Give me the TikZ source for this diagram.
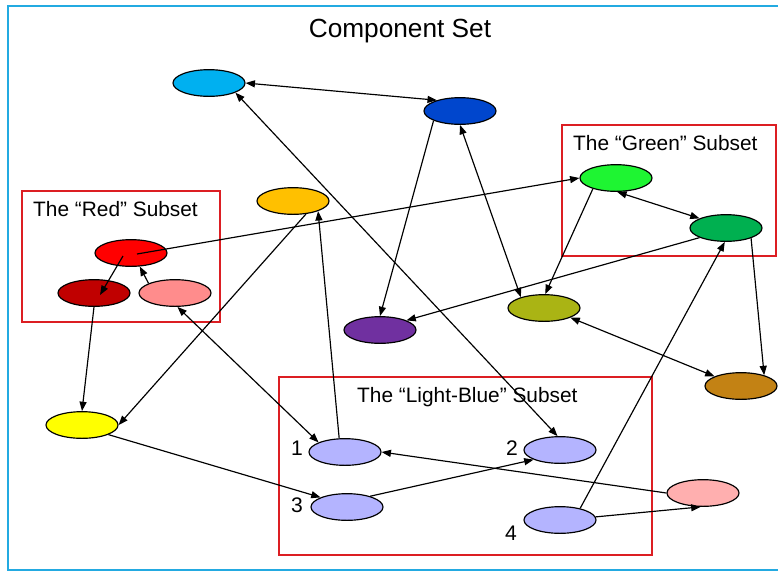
\documentclass[tikz,border=0pt]{standalone}
\usepackage{fontspec}
\setmainfont{Liberation Sans}
\usetikzlibrary{arrows.meta,shapes.geometric}
\definecolor{cFrame}{RGB}{35,170,225}
\definecolor{cBox}{RGB}{220,30,35}
\definecolor{cSky}{RGB}{0,176,240}
\definecolor{cNavy}{RGB}{0,70,205}
\definecolor{cAmber}{RGB}{255,192,0}
\definecolor{cRed}{RGB}{255,0,0}
\definecolor{cDarkRed}{RGB}{192,0,0}
\definecolor{cSalmon}{RGB}{255,140,140}
\definecolor{cLime}{RGB}{30,245,50}
\definecolor{cGreen}{RGB}{0,176,80}
\definecolor{cOlive}{RGB}{170,180,20}
\definecolor{cPlum}{RGB}{112,48,160}
\definecolor{cOchre}{RGB}{195,130,20}
\definecolor{cYellow}{RGB}{255,255,0}
\definecolor{cLav}{RGB}{180,180,255}
\definecolor{cBlush}{RGB}{255,175,175}
\begin{document}
\begin{tikzpicture}[x=0.03cm,y=-0.03cm,
		comp/.style={ellipse,draw,line width=1pt,minimum width=2.16cm,minimum height=0.8cm,inner sep=0pt},
		link/.style={-{Triangle[length=8pt,width=6pt]},line width=1pt},
		both/.style={{Triangle[length=8pt,width=6pt]}-{Triangle[length=8pt,width=6pt]},line width=1pt},
		subset/.style={draw=cBox,line width=1.7pt},
		sublbl/.style={font=\fontsize{17.8}{20}\selectfont,inner sep=0pt,anchor=base west},
		num/.style={font=\fontsize{18}{20}\selectfont,inner sep=0pt,anchor=base}]
	\useasboundingbox (0,0) rectangle (778,574);
	\draw [cFrame,line width=1.8pt] (778,6) -- (8,6) -- (8,570) -- (778,570);
	\node [font=\fontsize{22.4}{26}\selectfont,anchor=base] (title) at (400,37) {Component Set};
	\draw [subset] (22,191) rectangle (220,322);
	\draw [subset] (562,125) rectangle (776,256);
	\draw [subset] (279,377) rectangle (652,555);
	\node [sublbl] (redlbl) at (33,216) {The “Red” Subset};
	\node [sublbl] (greenlbl) at (573,150) {The “Green” Subset};
	\node [sublbl] (bluelbl) at (357,402) {The “Light-Blue” Subset};
	\node [comp,fill=cSky] (sky) at (209,83) {};
	\node [comp,fill=cNavy] (navy) at (460,111) {};
	\node [comp,fill=cAmber] (amber) at (293,201) {};
	\node [comp,fill=cRed] (rtop) at (131,253) {};
	\node [comp,fill=cDarkRed] (rleft) at (94,293) {};
	\node [comp,fill=cSalmon] (rright) at (175,293) {};
	\node [comp,fill=cLime] (g1) at (616,178) {};
	\node [comp,fill=cGreen] (g2) at (726,228) {};
	\node [comp,fill=cOlive] (olive) at (544,308) {};
	\node [comp,fill=cPlum] (plum) at (380,330) {};
	\node [comp,fill=cOchre] (ochre) at (741,386) {};
	\node [comp,fill=cYellow] (yel) at (82,425) {};
	\node [comp,fill=cLav] (lb1) at (345,452) {};
	\node [comp,fill=cLav] (lb2) at (560,450) {};
	\node [comp,fill=cLav] (lb3) at (347,507) {};
	\node [comp,fill=cLav] (lb4) at (560,520) {};
	\node [comp,fill=cBlush] (blush) at (703,493) {};
	\node [num] (n1) at (297,455) {1};
	\node [num] (n2) at (512,455) {2};
	\node [num] (n3) at (297,512) {3};
	\node [num] (n4) at (511,540) {4};
	\draw [both] (sky.east) -- (navy.155);
	\draw [both] (sky.-20) -- (lb2.100);
	\draw [link] (navy.200) -- (plum.north);
	\draw [both] (navy.south) -- (olive.155);
	\draw [link] ([shift={(6,1)}]rtop.center) -- (g1.west);
	\draw [link] ([shift={(-8,3)}]rtop.center) -- ([shift={(6,2)}]rleft.center);
	\draw [link] (rright.160) -- (rtop.-57);
	\draw [link] (rleft.south) -- (yel.north);
	\draw [link] (amber.-45) -- (yel.east);
	\draw [link] (lb1.113) -- (amber.-22);
	\draw [both] (rright.-80) -- (lb1.160);
	\draw [link] (yel.-20) -- (lb3.160);
	\draw [link] (lb3.25) -- (lb2.200);
	\draw [link] (blush.west) -- (lb1.east);
	\draw [link] (lb4.5) -- (blush.-100);
	\draw [link] (lb4.30) -- (g2.-95);
	\draw [both] (g1.-85) -- (g2.160);
	\draw [link] (g1.205) -- (olive.85);
	\draw [link] (g2.200) -- (plum.20);
	\draw [link] (g2.-22) -- (ochre.25);
	\draw [both] (olive.-20) -- (ochre.160);
\end{tikzpicture}
\end{document}
